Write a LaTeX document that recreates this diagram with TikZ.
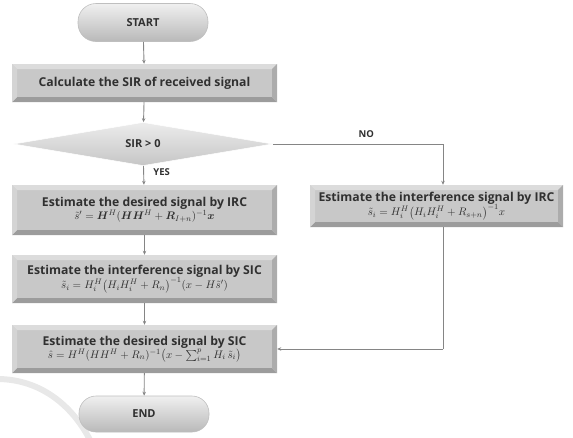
\documentclass[tikz,border=0pt]{standalone}
\usepackage{amsmath}
\usepackage{bm}
\usepackage{fontspec}
\setmainfont{Open Sans}
\usetikzlibrary{shapes.geometric,arrows.meta,calc}
\definecolor{boxgray}{HTML}{C8C8C8}
\definecolor{bevtop}{HTML}{DCDCDC}
\definecolor{bevbot}{HTML}{9C9C9C}
\definecolor{bevleft}{HTML}{D4D4D4}
\definecolor{bevright}{HTML}{ACACAC}
\definecolor{txt}{HTML}{303030}
\definecolor{linegray}{HTML}{858585}
\newcommand{\fml}[1]{{\mdseries\fontsize{11.3}{13}\selectfont $#1$}}
\tikzset{
  bevelbox/.style={fill=boxgray, inner sep=0pt, text=txt, font=\bfseries\fontsize{12.2}{14}\selectfont, align=center,
    path picture={
      \def\bw{5pt}
      \coordinate (nw) at (path picture bounding box.north west);
      \coordinate (ne) at (path picture bounding box.north east);
      \coordinate (sw) at (path picture bounding box.south west);
      \coordinate (se) at (path picture bounding box.south east);
      \fill[bevtop] (nw) -- (ne) -- ([xshift=-\bw,yshift=-\bw]ne) -- ([xshift=\bw,yshift=-\bw]nw) -- cycle;
      \fill[bevbot] (sw) -- (se) -- ([xshift=-\bw,yshift=\bw]se) -- ([xshift=\bw,yshift=\bw]sw) -- cycle;
      \fill[bevleft] (nw) -- (sw) -- ([xshift=\bw,yshift=\bw]sw) -- ([xshift=\bw,yshift=-\bw]nw) -- cycle;
      \fill[bevright] (ne) -- (se) -- ([xshift=-\bw,yshift=\bw]se) -- ([xshift=-\bw,yshift=-\bw]ne) -- cycle;
    }},
  pill/.style={rounded corners=18pt, top color=white!88!gray, bottom color=gray!55, draw=gray!50, line width=0.6pt,
    inner sep=0pt, text=txt, font=\bfseries\fontsize{11}{12}\selectfont},
  decision/.style={diamond, inner sep=0pt, top color=gray!15, bottom color=gray!45, draw=white, line width=0.5pt,
    text=txt, font=\bfseries\fontsize{11}{12}\selectfont},
  conn/.style={draw=linegray, line width=0.9pt, -{Stealth[length=4pt,width=3.5pt]}},
  plainconn/.style={draw=linegray, line width=0.9pt},
  lbl/.style={text=txt, font=\bfseries\fontsize{9.5}{10}\selectfont},
}
\begin{document}
\begin{tikzpicture}[x=1pt,y=-1pt]
\useasboundingbox (0,0) rectangle (573,437);
% watermark arc
\draw[gray!18, line width=6pt] (-3,379) .. controls (40,379) and (72,405) .. (90,440);

\node[pill, minimum width=130pt, minimum height=38pt] (start) at (143,22.5) {START};
\node[bevelbox, minimum width=265pt, minimum height=38pt] (calc) at (144.5,83) {Calculate the SIR of received signal};
\node[decision, minimum width=259pt, minimum height=38pt] (dec) at (143,144) {SIR > 0};
\node[bevelbox, minimum width=265pt, minimum height=50pt] (irc) at (144.5,210)
  {Estimate the desired signal by IRC\\[-1pt] \fml{\tilde{s}' = \bm{H}^{H}(\bm{H}\bm{H}^{H} + \bm{R}_{I+n})^{-1}\bm{x}}};
\node[bevelbox, minimum width=265pt, minimum height=48pt] (sicone) at (144.5,279)
  {Estimate the interference signal by SIC\\[-1pt] \fml{\tilde{s}_i = H_i^{H}\bigl(H_iH_i^{H} + R_n\bigr)^{-1}(x - H\tilde{s}')}};
\node[bevelbox, minimum width=265pt, minimum height=48pt] (sictwo) at (144.5,349)
  {Estimate the desired signal by SIC\\[-1pt] \fml{\hat{s} = H^{H}(HH^{H} + R_n)^{-1}\bigl(x - \textstyle\sum_{i=1}^{p} H_i\,\tilde{s}_i\bigr)}};
\node[pill, minimum width=130pt, minimum height=36pt, rounded corners=17pt] (end) at (144,414) {END};
\node[bevelbox, minimum width=253pt, minimum height=42pt] (rirc) at (436.5,206)
  {Estimate the interference signal by IRC\\[-1pt] \fml{\tilde{s}_i = H_i^{H}\bigl(H_iH_i^{H} + R_{s+n}\bigr)^{-1}x}};

\coordinate (ctop) at (443,144);
\coordinate (cbot) at (443,349);

\draw[conn] (start) -- (calc);
\draw[conn] (calc) -- (dec);
\draw[conn] (dec) -- node[lbl, right=6pt, pos=0.35] {YES} (irc);
\draw[conn] (irc) -- (sicone);
\draw[conn] (sicone) -- (sictwo);
\draw[conn] (sictwo) -- (end);
\draw[conn] (dec.east) -- node[lbl, above=3pt, pos=0.55] {NO} (ctop) -- (rirc.north -| ctop);
\draw[plainconn] (rirc.south -| cbot) -- (cbot);
\draw[conn] (cbot) -- (sictwo.east);
\end{tikzpicture}
\end{document}
